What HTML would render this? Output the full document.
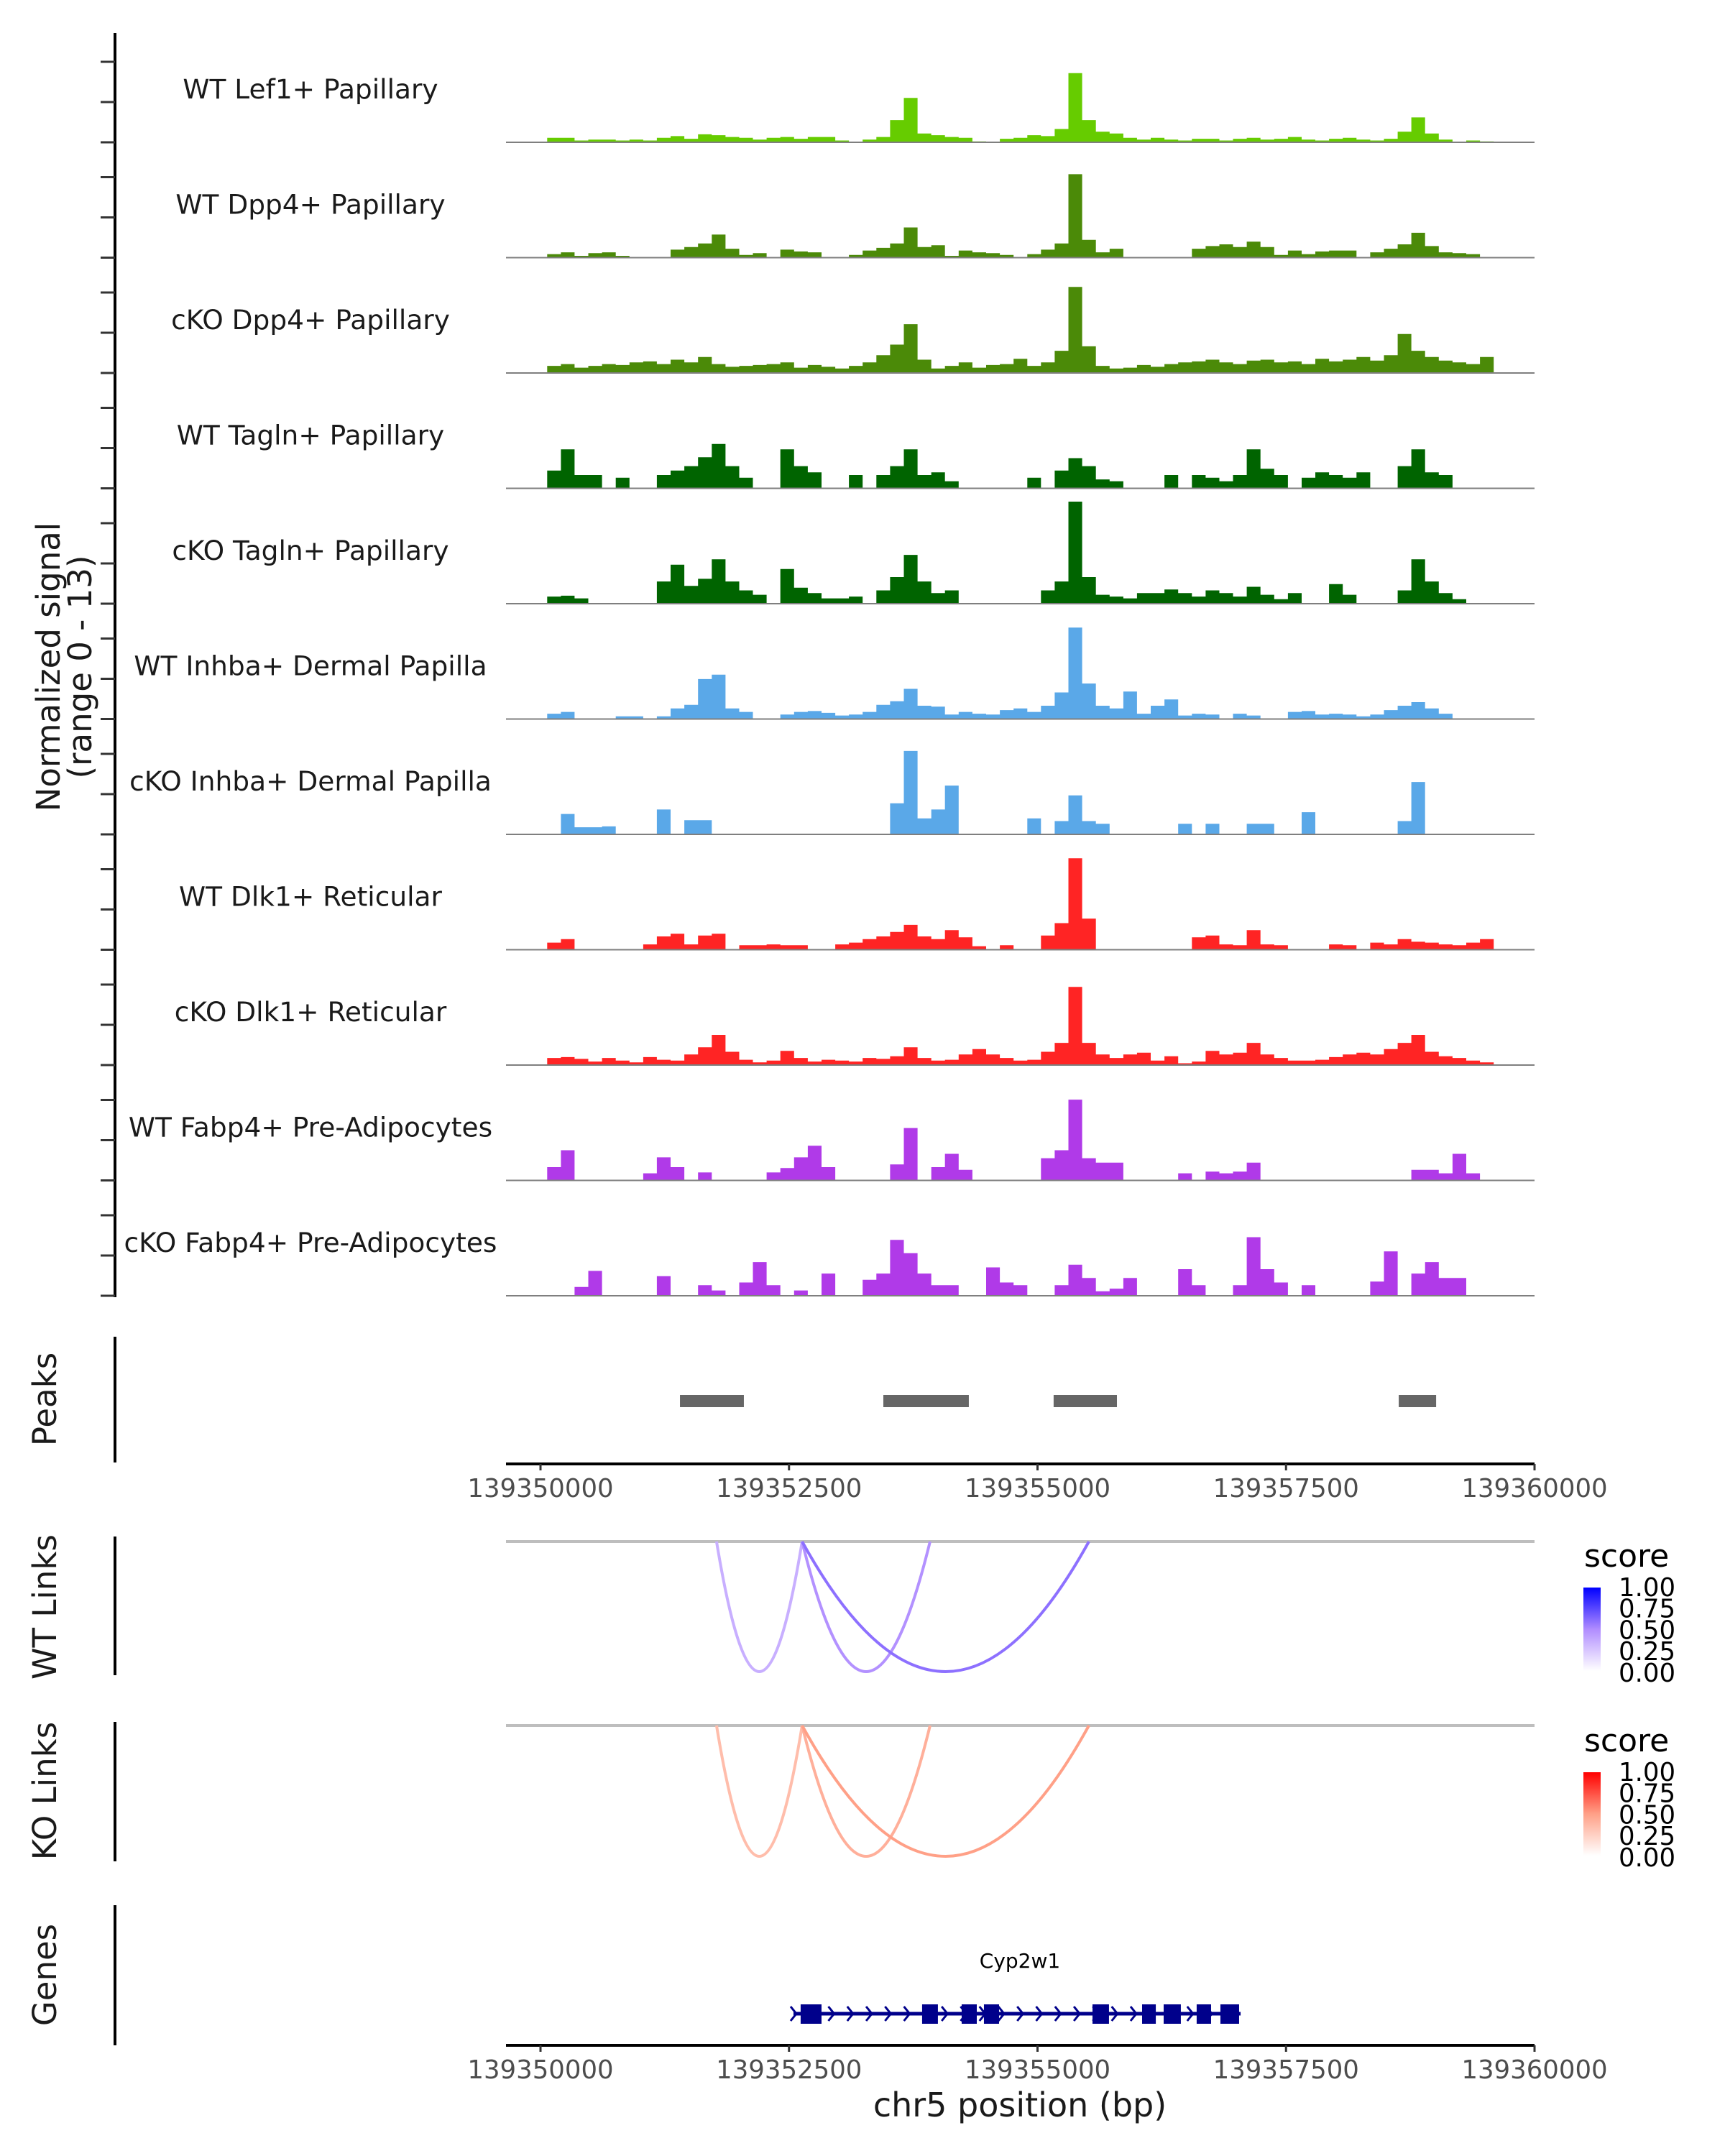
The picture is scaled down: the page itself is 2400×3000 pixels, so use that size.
<!DOCTYPE html>
<html><head><meta charset="utf-8"><style>
html,body{margin:0;padding:0;background:#fff}
svg{display:block}
text{font-family:"DejaVu Sans","Liberation Sans",sans-serif}
</style></head><body>
<svg id="chart" xmlns="http://www.w3.org/2000/svg" width="2400" height="3000" viewBox="0 0 2400 3000">
<g id="axes"></g>
</svg>
<script>
const trackNames=["WT Lef1+ Papillary","WT Dpp4+ Papillary","cKO Dpp4+ Papillary","WT Tagln+ Papillary","cKO Tagln+ Papillary","WT Inhba+ Dermal Papilla","cKO Inhba+ Dermal Papilla","WT Dlk1+ Reticular","cKO Dlk1+ Reticular","WT Fabp4+ Pre-Adipocytes","cKO Fabp4+ Pre-Adipocytes"];
const trackColors=["#66cc00","#4b8a08","#4b8a08","#006400","#006400","#5aa8e8","#5aa8e8","#ff2424","#ff2424","#b03ae8","#b03ae8"];
const sigLef1WT=[0,0,0,0.5,0.5,0.2,0.3,0.3,0.2,0.3,0.2,0.5,0.7,0.4,0.9,0.8,0.6,0.5,0.3,0.5,0.6,0.4,0.6,0.6,0.2,0,0.3,0.6,2.5,5,1,0.8,0.6,0.5,0.1,0,0.4,0.5,0.8,0.7,1.5,7.8,2.5,1.2,1.0,0.5,0.3,0.5,0.3,0.2,0.4,0.4,0.2,0.4,0.5,0.3,0.4,0.6,0.3,0.2,0.4,0.5,0.3,0.2,0.4,1.2,2.8,1,0.3,0,0.2,0.1,0,0,0];
const sigDpp4WT=[0,0,0,0.4,0.6,0.2,0.5,0.6,0.2,0,0,0,0.9,1.2,1.6,2.6,1,0.3,0.5,0,0.9,0.7,0.6,0,0,0.3,0.8,1.1,1.6,3.4,1.2,1.4,0.2,0.8,0.6,0.5,0.3,0,0.4,0.9,1.6,9.4,2,0.6,1,0,0,0,0,0,1,1.3,1.5,1.2,1.8,1.2,0.3,0.8,0.4,0.7,0.8,0.8,0,0.6,1,1.5,2.8,1.3,0.6,0.5,0.4,0,0,0,0];
const sigDpp4KO=[0,0,0,0.8,1,0.6,0.8,1,0.9,1.2,1.3,1,1.5,1.2,1.8,1,0.7,0.8,0.9,1,1.2,0.6,0.9,0.7,0.5,0.8,1.2,2,3.2,5.5,1.5,0.5,0.8,1.2,0.6,0.9,1,1.6,0.8,1.2,2.5,9.7,3,0.8,0.5,0.6,0.9,0.7,1,1.2,1.3,1.5,1.2,1,1.4,1.5,1.2,1.3,1,1.6,1.3,1.5,1.8,1.4,2,4.4,2.5,1.8,1.4,1.2,1,1.8,0,0,0];
const sigTaglnWT=[0,0,0,2,4.4,1.5,1.5,0,1.2,0,0,1.5,2,2.5,3.5,5,2.5,1.2,0,0,4.4,2.5,1.8,0,0,1.5,0,1.5,2.5,4.4,1.5,1.8,0.8,0,0,0,0,0,1.2,0,2,3.4,2.5,1,0.8,0,0,0,1.5,0,1.5,1.2,0.8,1.5,4.4,2.2,1.5,0,1.2,1.8,1.5,1.2,1.8,0,0,2.5,4.4,1.8,1.5,0,0,0,0,0,0];
const sigTaglnKO=[0,0,0,0.8,0.9,0.6,0,0,0,0,0,2.5,4.4,2,2.8,5,2.5,1.5,1,0,3.9,1.8,1.2,0.6,0.6,0.8,0,1.5,3,5.5,2.5,1.2,1.5,0,0,0,0,0,0,1.5,2.5,11.5,3,1,0.8,0.6,1.2,1.2,1.6,1.2,0.8,1.5,1.2,0.8,1.9,1,0.5,1.2,0,0,2.2,1,0,0,0,1.5,5,2.5,1.2,0.5,0,0,0,0,0];
const sigInhbaWT=[0,0,0,0.6,0.8,0,0,0,0.3,0.3,0,0.3,1.2,1.6,4.5,5,1.2,0.8,0,0,0.5,0.8,0.9,0.7,0.4,0.5,0.8,1.6,2,3.4,1.5,1.4,0.5,0.8,0.6,0.5,1,1.2,0.8,1.5,3,10.3,4,1.5,1.2,3.1,0.6,1.5,2.2,0.4,0.6,0.5,0,0.6,0.4,0,0,0.8,0.9,0.5,0.6,0.5,0.3,0.5,1,1.5,1.9,1.2,0.6,0,0,0,0,0,0];
const sigInhbaKO=[0,0,0,0,2.3,0.8,0.8,0.9,0,0,0,2.8,0,1.6,1.6,0,0,0,0,0,0,0,0,0,0,0,0,0,3.5,9.4,1.8,2.8,5.5,0,0,0,0,0,1.8,0,1.5,4.4,1.5,1.2,0,0,0,0,0,1.2,0,1.2,0,0,1.2,1.2,0,0,2.5,0,0,0,0,0,0,1.5,5.9,0,0,0,0,0,0,0,0];
const sigDlk1WT=[0,0,0,0.8,1.2,0,0,0,0,0,0.6,1.5,1.8,0.6,1.6,1.8,0,0.5,0.5,0.6,0.5,0.5,0,0,0.6,0.8,1.2,1.5,2,2.8,1.5,1.2,2.2,1.4,0.4,0,0.5,0,0,1.6,3,10.3,3.5,0,0,0,0,0,0,0,1.4,1.6,0.6,0.5,2.2,0.6,0.5,0,0,0,0.6,0.5,0,0.8,0.6,1.2,0.9,0.8,0.6,0.5,0.8,1.2,0,0,0];
const sigDlk1KO=[0,0,0,0.8,0.9,0.7,0.4,0.8,0.5,0.3,0.9,0.6,0.5,1.2,2,3.4,1.5,0.6,0.3,0.5,1.6,0.8,0.4,0.6,0.5,0.4,0.8,0.7,1,2,0.8,0.5,0.6,1.2,1.8,1.2,0.8,0.5,0.6,1.5,2.5,8.8,2.5,1.2,0.8,1.2,1.4,0.5,1,0.2,0.4,1.6,1.2,1.4,2.5,1.2,0.8,0.5,0.5,0.6,0.9,1.2,1.4,1.2,1.8,2.5,3.4,1.5,1,0.8,0.5,0.3,0,0,0];
const sigFabp4WT=[0,0,0,1.5,3.4,0,0,0,0,0,0.8,2.6,1.5,0,0.9,0,0,0,0,0.9,1.4,2.6,3.9,1.5,0,0,0,0,1.8,5.9,0,1.5,3,1.2,0,0,0,0,0,2.5,3.4,9.1,2.5,2,2,0,0,0,0,0.8,0,1,0.8,1,2,0,0,0,0,0,0,0,0,0,0,0,1.2,1.2,0.8,3,0.8,0,0,0,0];
const sigFabp4KO=[0,0,0,0,0,1,2.8,0,0,0,0,2.2,0,0,1.2,0.6,0,1.5,3.8,1.2,0,0.6,0,2.5,0,0,1.8,2.5,6.3,4.8,2.5,1.2,1.2,0,0,3.2,1.5,1.2,0,0,1.2,3.5,2,0.5,0.8,2,0,0,0,3,1.2,0,0,1.2,6.6,3,1.5,0,1.2,0,0,0,0,1.6,5,0,2.5,3.8,2,2,0,0,0,0,0];
const signals=[sigLef1WT,sigDpp4WT,sigDpp4KO,sigTaglnWT,sigTaglnKO,sigInhbaWT,sigInhbaKO,sigDlk1WT,sigDlk1KO,sigFabp4WT,sigFabp4KO];
const peakStarts=[139351403,139353449,139355162,139358634];
const peakEnds=[139352046,139354309,139355799,139359010];
const xTicks=[139350000,139352500,139355000,139357500,139360000];
const wtLinkStart=[139351771,139352632,139352632];
const wtLinkEnd=[139352632,139353919,139355517];
const wtLinkScore=[0.35,0.48,0.6];
const koLinkStart=[139351771,139352632,139352632];
const koLinkEnd=[139352632,139353919,139355517];
const koLinkScore=[0.35,0.42,0.5];
const legendTicks=["1.00","0.75","0.50","0.25","0.00"];
const exonStarts=[139352617,139353839,139354237,139354461,139355553,139356052,139356269,139356601,139356840];
const exonEnds=[139352827,139353998,139354389,139354613,139355719,139356190,139356442,139356746,139357028];
const geneStart=139352545, geneEnd=139357043;

const NS="http://www.w3.org/2000/svg";
const svg=document.getElementById('chart');
function mk(tag,attrs,parent){const e=document.createElementNS(NS,tag);for(const k in attrs)e.setAttribute(k,attrs[k]);(parent||svg).appendChild(e);return e;}
const domStart=139349653, domEnd=139360000;
function X(bp){return 752+(bp-139350000)*0.1383;}
const binBp=138;
const yScale=12.35;
function base(k){return 198+160.5*k;}

let ax=mk('line',{x1:160,y1:46,x2:160,y2:1805,stroke:'#000','stroke-width':4});

for(let k=0;k<11;k++){for(let j=0;j<3;j++){const y=base(k)-56*j;const t=mk('line',{x1:140,y1:y,x2:160,y2:y,stroke:'#333','stroke-width':3});

}}
let yl=mk('text',{transform:'translate(89,928) rotate(-90)','text-anchor':'middle','font-size':45,fill:'#1a1a1a'});

mk('tspan',{x:0,y:-6},yl).textContent='Normalized signal';
mk('tspan',{x:0,y:38},yl).textContent='(range 0 - 13)';

signals.forEach((arr,k)=>{
  const b=base(k);
  const g=mk('g',{});
  
  
  let d='M'+X(domStart)+','+b;
  arr.forEach((v,i)=>{const x0=X(domStart+i*binBp),x1=X(domStart+(i+1)*binBp);const y=b-v*yScale;d+=' L'+x0.toFixed(1)+','+y.toFixed(1)+' L'+x1.toFixed(1)+','+y.toFixed(1);});
  d+=' L'+X(domStart+arr.length*binBp).toFixed(1)+','+b+' Z';
  const p=mk('path',{d:d,fill:trackColors[k],stroke:'none'},g);
  
  const bl=mk('line',{x1:704,y1:b,x2:2135,y2:b,stroke:'#7f7f7f','stroke-width':2},g);
  
  const lt=mk('text',{x:432,y:b-61,'text-anchor':'middle','font-size':37.5,fill:'#1a1a1a'},g);
  lt.textContent=trackNames[k];
  
});

function panelAxis(y1,y2,label,ly,name){
  const l=mk('line',{x1:160,y1:y1,x2:160,y2:y2,stroke:'#000','stroke-width':4});
  
  const t=mk('text',{transform:'translate(78,'+ly+') rotate(-90)','text-anchor':'middle','font-size':45,fill:'#1a1a1a'});
  t.textContent=label;
}
panelAxis(1860,2035,'Peaks',1947,'peaks');
panelAxis(2138,2331,'WT Links',2236,'wt-links');
panelAxis(2396,2590,'KO Links',2492,'ko-links');
panelAxis(2651,2846,'Genes',2748,'genes');

peakStarts.forEach((s,i)=>{const r=mk('rect',{x:X(s),y:1941,width:X(peakEnds[i])-X(s),height:17,fill:'#666'});
});

function xAxis(y,name){
  const l=mk('line',{x1:704,y1:y,x2:2135,y2:y,stroke:'#000','stroke-width':4});
  
  xTicks.forEach(t=>{const tk=mk('line',{x1:X(t),y1:y,x2:X(t),y2:y+9,stroke:'#333','stroke-width':3});
  
  const tl=mk('text',{x:X(t),y:y+46,'text-anchor':'middle','font-size':35.5,fill:'#4d4d4d'});tl.textContent=t;
  });
}
xAxis(2037,'peaks-x-axis');
xAxis(2846,'genes-x-axis');
const xt=mk('text',{x:1419,y:2945,'text-anchor':'middle','font-size':46,fill:'#1a1a1a'});xt.textContent='chr5 position (bp)';


function lerp(a,b,t){return Math.round(a+(b-a)*t);}
function scaleColor(stops,v){let i=v<0.5?0:1;const t=v<0.5?v/0.5:(v-0.5)/0.5;const a=stops[i],b=stops[i+1];return 'rgb('+lerp(a[0],b[0],t)+','+lerp(a[1],b[1],t)+','+lerp(a[2],b[2],t)+')';}
const wtStops=[[255,255,255],[176,140,255],[0,0,255]];
const koStops=[[255,255,255],[255,160,135],[255,0,0]];
function links(y0,depth,st,en,sc,stops,name,legY){
  const bl=mk('line',{x1:704,y1:y0,x2:2135,y2:y0,stroke:'#bebebe','stroke-width':4});
  
  st.forEach((s,i)=>{const x1=X(s),x2=X(en[i]);
    const p=mk('path',{d:'M'+x1+','+y0+' Q'+((x1+x2)/2)+','+(y0+2*depth)+' '+x2+','+y0,fill:'none',stroke:scaleColor(stops,sc[i]),'stroke-width':4});
    });
  const gid=name+'-grad';
  const defs=mk('defs',{});const lg=mk('linearGradient',{id:gid,x1:0,y1:1,x2:0,y2:0},defs);
  [0,0.5,1].forEach((o,i)=>mk('stop',{offset:o,'stop-color':'rgb('+stops[i].join(',')+')'},lg));
  const ttl=mk('text',{x:2204,y:legY,'font-size':44,fill:'#000'});ttl.textContent='score';
  
  const r=mk('rect',{x:2203,y:legY+29,width:24,height:116,fill:'url(#'+gid+')'});
  
  legendTicks.forEach((t,i)=>{const tt=mk('text',{x:2252,y:legY+41+i*29.7,'font-size':35.5,fill:'#000'});tt.textContent=t;
  });
}
links(2145,181,wtLinkStart,wtLinkEnd,wtLinkScore,wtStops,'wt-links',2180);
links(2401,182,koLinkStart,koLinkEnd,koLinkScore,koStops,'ko-links',2437);

const gg=mk('g',{});
const gl=mk('line',{x1:X(geneStart),y1:2802,x2:X(geneEnd),y2:2802,stroke:'#00008b','stroke-width':5},gg);

for(let bp=geneStart;bp<geneEnd;bp+=190){const x=X(bp);
  const c=mk('path',{d:'M'+(x-4)+','+2792+' L'+(x+4)+','+2802+' L'+(x-4)+','+2812,fill:'none',stroke:'#00008b','stroke-width':3},gg);
  }
exonStarts.forEach((s,i)=>{const r=mk('rect',{x:X(s),y:2789,width:X(exonEnds[i])-X(s),height:27,fill:'#00008b'},gg);
});
const gn=mk('text',{x:1419,y:2738,'text-anchor':'middle','font-size':28,fill:'#000'},gg);gn.textContent='Cyp2w1';

</script>
</body></html>
